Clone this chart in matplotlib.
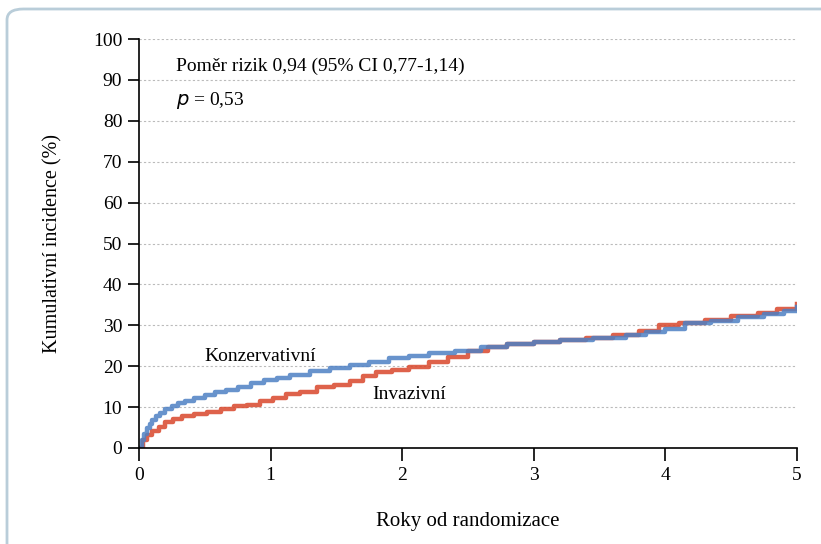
"""Kumulativni incidence - konzervativni vs invazivni strategie."""
import matplotlib
matplotlib.use("Agg")
import matplotlib.pyplot as plt
from matplotlib.patches import FancyBboxPatch

# roky od randomizace / kumulativni incidence (%)
kons_t = [0, 0.02, 0.04, 0.06, 0.08, 0.1, 0.13, 0.16, 0.2, 0.25, 0.3, 0.35, 0.42, 0.5,
          0.58, 0.66, 0.75, 0.85, 0.95, 1.05, 1.15, 1.3, 1.45, 1.6, 1.75, 1.9, 2.05,
          2.2, 2.4, 2.6, 2.8, 3.0, 3.2, 3.45, 3.7, 3.85, 4.0, 4.15, 4.35, 4.55, 4.75,
          4.9, 5.0]
kons_v = [0, 2, 3.5, 4.8, 5.8, 6.8, 7.8, 8.6, 9.5, 10.3, 11, 11.6, 12.3, 13,
          13.8, 14.3, 14.8, 15.8, 16.6, 17.2, 17.8, 18.8, 19.6, 20.3, 21.1, 22, 22.6,
          23.2, 23.8, 24.6, 25.4, 26, 26.3, 26.8, 27.6, 28.3, 29.2, 30.5, 31.1, 32, 32.8,
          33.5, 34.5]

inv_t = [0, 0.03, 0.06, 0.1, 0.15, 0.2, 0.26, 0.33, 0.42, 0.52, 0.62, 0.72, 0.82, 0.92,
         1.02, 1.12, 1.22, 1.35, 1.48, 1.6, 1.7, 1.8, 1.92, 2.05, 2.2, 2.35, 2.5, 2.65,
         2.8, 3.0, 3.2, 3.4, 3.6, 3.8, 3.95, 4.1, 4.3, 4.5, 4.7, 4.85, 5.0]
inv_v = [0, 2, 3.2, 4.2, 5.2, 6.3, 7.2, 7.8, 8.3, 8.8, 9.6, 10.2, 10.6, 11.4,
         12.3, 13.2, 13.8, 14.8, 15.3, 16.3, 17.5, 18.5, 19, 19.9, 21, 22.3, 23.6, 24.8,
         25.4, 26, 26.4, 27, 27.6, 28.5, 30, 30.6, 31.3, 32.2, 33, 34, 35.2]

x_ticks = [0, 1, 2, 3, 4, 5]
y_ticks = [0, 10, 20, 30, 40, 50, 60, 70, 80, 90, 100]

matplotlib.rcParams.update({'font.size': 14, 'font.family': ['Liberation Serif', 'DejaVu Serif']})

fig = plt.figure(figsize=(8.21, 5.44), dpi=100)
ax = fig.add_axes([139/821, 1-448/544, (797-139)/821, (448-39)/544])

# ramecek kolem grafu
frame = FancyBboxPatch((7/821, -0.2), 2, 1.2 - 9/544, transform=fig.transFigure,
                       boxstyle="round,pad=0,rounding_size=0.02", fill=False,
                       edgecolor='#b9cdd9', linewidth=2, clip_on=False)
fig.patches.append(frame)

ax.plot(inv_t, inv_v, drawstyle='steps-post', color='#d9472b', lw=3.2, alpha=0.85)
ax.plot(kons_t, kons_v, drawstyle='steps-post', color='#4d80c4', lw=3.2, alpha=0.85)

ax.set_xlim(0, 5)
ax.set_ylim(0, 100)
ax.set_xticks(x_ticks)
ax.set_yticks(y_ticks)
ax.tick_params(axis='x', direction='out', length=9, width=1.2, pad=5, labelsize=14)
ax.tick_params(axis='y', direction='out', length=8, width=1.2, pad=4, labelsize=14)
ax.spines['top'].set_visible(False)
ax.spines['right'].set_visible(False)
ax.spines['left'].set_linewidth(1.2)
ax.spines['bottom'].set_linewidth(1.2)
ax.yaxis.grid(True, linestyle=(0, (2, 2)), color='#bbbbbb', linewidth=0.8)
ax.set_axisbelow(True)

ax.set_ylabel('Kumulativní incidence (%)', fontsize=14.5, labelpad=22)
ax.set_xlabel('Roky od randomizace', fontsize=15, labelpad=20)

ax.text(0.28, 93.2, 'Poměr rizik 0,94 (95% CI 0,77-1,14)', fontsize=14, va='center')
ax.text(0.28, 85.0, '$p$ = 0,53', fontsize=14, va='center')
ax.text(0.5, 22.4, 'Konzervativní', fontsize=14, va='center')
ax.text(1.77, 13.2, 'Invazivní', fontsize=14, va='center')

fig.savefig('out.png', dpi=100, facecolor='w')
